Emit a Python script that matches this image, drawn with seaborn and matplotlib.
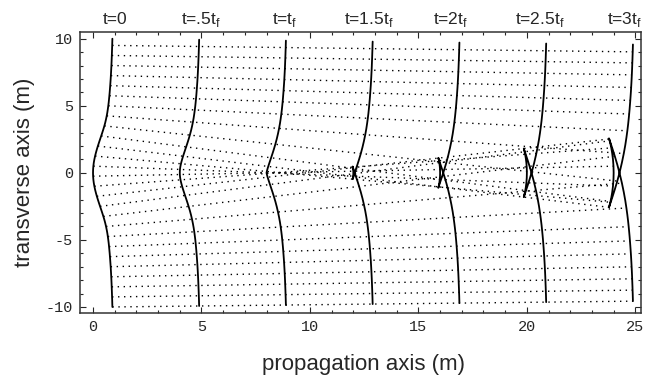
import numpy as np
import pandas as pd
import seaborn as sns
import matplotlib.pyplot as plt
from matplotlib.ticker import MultipleLocator

# initial wavefront (t=0), upper half, mirrored below
front_y = [0.0, 0.25, 0.5, 0.75, 1.0, 1.25, 1.5, 1.75, 2.0, 2.25, 2.5, 2.75, 3.0,
           3.25, 3.5, 3.75, 4.0, 4.25, 4.5, 4.75, 5.0, 5.25, 5.5, 5.75, 6.0, 6.25,
           6.5, 6.75, 7.0, 7.25, 7.5, 7.75, 8.0, 8.25, 8.5, 8.75, 9.0, 9.25, 9.5,
           9.75, 10.0]
front_x0 = [0.000, 0.004, 0.016, 0.035, 0.062, 0.095, 0.134, 0.177, 0.224, 0.274,
            0.325, 0.377, 0.428, 0.477, 0.523, 0.564, 0.600, 0.632, 0.660, 0.683,
            0.704, 0.723, 0.739, 0.754, 0.768, 0.780, 0.792, 0.803, 0.814, 0.823,
            0.832, 0.840, 0.848, 0.855, 0.861, 0.867, 0.873, 0.878, 0.884, 0.888,
            0.893]
# |dy/dx| of the ray leaving each point of the t=0 front (rays bend toward the axis)
front_slope = [0.000, 0.031, 0.062, 0.092, 0.120, 0.145, 0.166, 0.181, 0.194, 0.203,
               0.208, 0.208, 0.202, 0.190, 0.174, 0.155, 0.136, 0.118, 0.102, 0.089,
               0.078, 0.069, 0.062, 0.057, 0.053, 0.049, 0.046, 0.043, 0.040, 0.037,
               0.034, 0.031, 0.029, 0.027, 0.025, 0.023, 0.022, 0.021, 0.020, 0.019,
               0.018]

# starting heights of the dotted rays
ray_y0 = [-10.0, -9.25, -8.5, -7.75, -7.0, -6.25, -5.5, -4.75, -4.0, -3.25, -2.5,
          -1.75, -1.0, -0.25, 0.5, 1.25, 2.0, 2.75, 3.5, 4.25, 5.0, 5.75, 6.5, 7.25,
          8.0, 8.75, 9.5]

# snapshot times and the distance travelled (m)
time_labels = ["t=0", "t=.5t$_\\mathrm{f}$", "t=t$_\\mathrm{f}$", "t=1.5t$_\\mathrm{f}$",
               "t=2t$_\\mathrm{f}$", "t=2.5t$_\\mathrm{f}$", "t=3t$_\\mathrm{f}$"]
time_dist = [0, 4, 8, 12, 16, 20, 24]
label_x = [1.0, 5.0, 8.85, 12.7, 16.5, 20.6, 24.5]

# mirror the upper half to get the full front
fy = np.array(front_y)
fx = np.array(front_x0)
fs = np.array(front_slope)
y0 = np.concatenate([-fy[:0:-1], fy])
x0 = np.concatenate([fx[:0:-1], fx])
slope = np.concatenate([fs[:0:-1], -fs])
norm = np.sqrt(1 + slope ** 2)

# wavefronts: points a distance L along each ray
fronts = pd.concat([
    pd.DataFrame({"x": x0 + L / norm, "y": y0 + L * slope / norm, "t": i})
    for i, L in enumerate(time_dist)
])

# rays from t=0 to t=3tf
rows = []
for k, yy in enumerate(ray_y0):
    j = int(np.argmin(np.abs(y0 - yy)))
    for L in (0, time_dist[-1]):
        rows.append({"x": x0[j] + L / norm[j], "y": y0[j] + L * slope[j] / norm[j], "ray": k})
rays = pd.DataFrame(rows)

sns.set_style("ticks")
plt.rcParams["font.family"] = ["Liberation Sans", "DejaVu Sans"]
plt.rcParams["mathtext.fontset"] = "custom"
plt.rcParams["mathtext.rm"] = "Liberation Sans"
plt.rcParams["axes.unicode_minus"] = False

fig = plt.figure(figsize=(6.52, 3.81), dpi=100)
ax = fig.add_axes([0.1227, 0.1785, 0.8604, 0.7375])

sns.lineplot(data=rays, x="x", y="y", units="ray", estimator=None, sort=False,
             color="black", lw=1.0, linestyle=(0, (1, 3.3)), ax=ax)
sns.lineplot(data=fronts, x="x", y="y", units="t", estimator=None, sort=False,
             color="black", lw=1.3, ax=ax)

for lx, lab in zip(label_x, time_labels):
    ax.text(lx, 1.027, lab, transform=ax.get_xaxis_transform(),
            ha="center", va="baseline", fontsize=12.5)

ax.set_xlim(-0.6, 25.26)
ax.set_ylim(-10.45, 10.5)
ax.set_xticks([0, 5, 10, 15, 20, 25])
ax.set_yticks([-10, -5, 0, 5, 10])
ax.xaxis.set_minor_locator(MultipleLocator(1))
ax.yaxis.set_minor_locator(MultipleLocator(1))
ax.tick_params(which="both", direction="in", top=True, right=True, width=0.8,
               labelfontfamily="Liberation Mono", labelsize=11)
ax.tick_params(which="major", length=4, pad=5)
ax.tick_params(which="minor", length=2)
for sp in ax.spines.values():
    sp.set_linewidth(1.1)
    sp.set_color("#333333")

ax.set_xlabel("propagation axis (m)", fontsize=16)
ax.set_ylabel("transverse axis (m)", fontsize=16)
ax.xaxis.set_label_coords(0.505, -0.146)
ax.yaxis.set_label_coords(-0.080, 0.5)

fig.savefig("out.png", dpi=100)
